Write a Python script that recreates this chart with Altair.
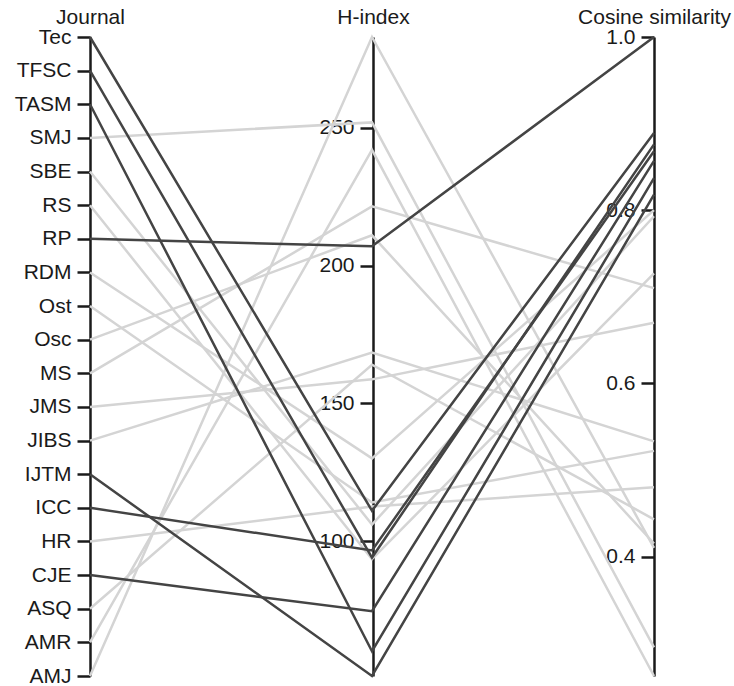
import altair as alt
import pandas as pd

# Journals listed top to bottom on the first axis
journals = ["Tec", "TFSC", "TASM", "SMJ", "SBE", "RS", "RP", "RDM", "Ost", "Osc",
            "MS", "JMS", "JIBS", "IJTM", "ICC", "HR", "CJE", "ASQ", "AMR", "AMJ"]
h_index = [111, 94, 60, 252, 106, 93.4, 207, 130, 114, 211,
           221.5, 158.7, 168.4, 51, 96.6, 112.5, 74.5, 164, 242, 283]
cosine = [0.889, 0.876, 0.837, 0.295, 0.793, 0.727, 1.0, 0.80, 0.522, 0.415,
          0.71, 0.67, 0.533, 0.818, 0.868, 0.48, 0.857, 0.443, 0.262, 0.41]
highlighted = ["Tec", "TFSC", "TASM", "RP", "IJTM", "ICC", "CJE"]

h_ticks = [100, 150, 200, 250]
cos_ticks = [0.4, 0.6, 0.8, 1.0]
dimensions = ["journal_pos", "h_index", "cosine"]

df = pd.DataFrame({
    "journal": journals,
    "journal_pos": [len(journals) - 1 - i for i in range(len(journals))],
    "h_index": h_index,
    "cosine": cosine,
    "group": ["focus" if j in highlighted else "other" for j in journals],
})

W, H = 564, 639
FONT = "Liberation Sans"
INK = "#1a1a1a"

dim_list = "[" + ",".join(f"'{d}'" for d in dimensions) + "]"

base = (
    alt.Chart(df)
    .transform_fold(dimensions, as_=["key", "value"])
    .transform_joinaggregate(vmin="min(value)", vmax="max(value)", groupby=["key"])
    .transform_calculate(
        norm="(datum.value - datum.vmin) / (datum.vmax - datum.vmin)",
        dim=f"indexof({dim_list}, datum.key)",
    )
)

enc = dict(
    x=alt.X("key:N", scale=alt.Scale(type="point", domain=dimensions, padding=0), axis=None),
    y=alt.Y("norm:Q", scale=alt.Scale(domain=[0, 1], zero=False, nice=False), axis=None),
    detail="journal:N",
    order="dim:Q",
)

light = base.transform_filter("datum.group == 'other'").mark_line(
    color="#d4d4d4", strokeWidth=2.5
).encode(**enc)
dark = base.transform_filter("datum.group == 'focus'").mark_line(
    color="#444444", strokeWidth=2.5
).encode(**enc)


def axis_style(title, offset, **kw):
    return alt.Axis(
        title=title, orient="left", offset=offset, grid=False,
        domainColor=INK, domainWidth=2.5, tickColor=INK, tickWidth=2.5, tickSize=13,
        labelFont=FONT, labelFontSize=21, labelColor=INK, labelPadding=6,
        labelFlush=False, labelOverlap=False,
        titleFont=FONT, titleFontSize=21, titleFontWeight="normal", titleColor=INK,
        titleAngle=0, titleX=0, titleY=-14, titleAlign="center", titleBaseline="alphabetic",
        **kw,
    )


journal_axis = alt.Chart(df).mark_point(opacity=0).encode(
    y=alt.Y("journal:O", scale=alt.Scale(type="point", domain=journals, padding=0),
            axis=axis_style("Journal", 0))
)
h_axis = alt.Chart(df).mark_point(opacity=0).encode(
    y=alt.Y("h_index:Q", scale=alt.Scale(zero=False, nice=False),
            axis=axis_style("H-index", -W / 2 - 1, values=h_ticks))
)
cos_axis = alt.Chart(df).mark_point(opacity=0).encode(
    y=alt.Y("cosine:Q", scale=alt.Scale(zero=False, nice=False),
            axis=axis_style("Cosine similarity", -W, values=cos_ticks, format=".1f"))
)

chart = (
    alt.layer(journal_axis, h_axis, cos_axis, light, dark)
    .resolve_scale(y="independent")
    .properties(
        width=W, height=H,
        autosize=alt.AutoSizeParams(type="none"),
        padding={"left": 90, "top": 37, "right": 80, "bottom": 10},
        background="white",
    )
    .configure_view(stroke=None)
)

chart.save("out.html", embed_options={"renderer": "svg", "actions": False})
